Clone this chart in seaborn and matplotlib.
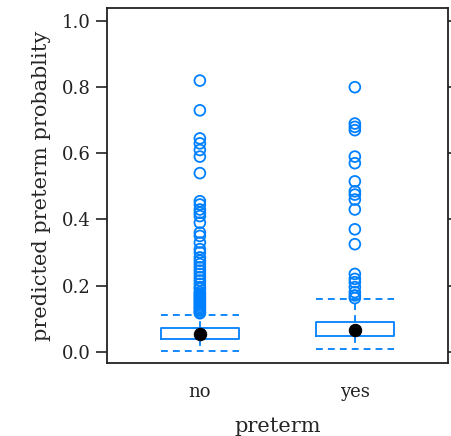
import matplotlib
matplotlib.use("Agg")
import matplotlib.pyplot as plt
import pandas as pd
import seaborn as sns

# box statistics
categories = ["no", "yes"]
q1 = [0.039, 0.048]
medians = [0.054, 0.066]
q3 = [0.070, 0.091]
whisker_lo = [0.003, 0.009]
whisker_hi = [0.112, 0.158]

# outlying points
outliers_no = [
    0.82, 0.73, 0.645, 0.63, 0.61, 0.59, 0.54,
    0.455, 0.445, 0.43, 0.42, 0.41, 0.39, 0.36, 0.35,
    0.33, 0.31, 0.30, 0.285, 0.275, 0.265, 0.255, 0.245, 0.235,
    0.225, 0.215, 0.205, 0.195, 0.19, 0.18, 0.175, 0.17, 0.165,
    0.16, 0.155, 0.15, 0.145, 0.14, 0.135, 0.13, 0.125, 0.12, 0.116,
]
outliers_yes = [
    0.80, 0.69, 0.68, 0.67, 0.59, 0.57, 0.515, 0.485, 0.475, 0.46,
    0.43, 0.37, 0.325, 0.235, 0.22, 0.21, 0.195, 0.18, 0.17, 0.162,
]

blue = "#0080ff"
sns.set_theme(style="white")
plt.rcParams["font.family"] = ["DejaVu Serif"]

fig = plt.figure(figsize=(4.51, 4.36), dpi=100)
ax = fig.add_axes([0.237, 0.167, 0.756, 0.815])

stats = []
for i, cat in enumerate(categories):
    stats.append({
        "label": cat, "q1": q1[i], "med": medians[i], "q3": q3[i],
        "whislo": whisker_lo[i], "whishi": whisker_hi[i], "fliers": [],
    })

dash = (0, (3.8, 2.8))
ax.bxp(
    stats, positions=[0, 1], widths=0.5, capwidths=0.5, showfliers=False,
    boxprops=dict(color=blue, linewidth=1.3),
    whiskerprops=dict(color=blue, linewidth=1.3, linestyle=dash),
    capprops=dict(color=blue, linewidth=1.3, linestyle=dash),
    medianprops=dict(linewidth=0),
)

df_out = pd.DataFrame({
    "preterm": ["no"] * len(outliers_no) + ["yes"] * len(outliers_yes),
    "prob": outliers_no + outliers_yes,
})
df_out["pos"] = df_out["preterm"].map({c: i for i, c in enumerate(categories)})
sns.scatterplot(data=df_out, x="pos", y="prob", ax=ax, marker="o",
                facecolor="none", edgecolor=blue, linewidth=1.3, s=60, zorder=3)

df_med = pd.DataFrame({"pos": [0, 1], "med": medians})
sns.scatterplot(data=df_med, x="pos", y="med", ax=ax, color="black",
                s=80, edgecolor="black", zorder=4)

ax.set_xlim(-0.6, 1.6)
ax.set_ylim(-0.035, 1.04)
ax.set_xticks([0, 1])
ax.set_xticklabels(categories)
ax.set_yticks([0.0, 0.2, 0.4, 0.6, 0.8, 1.0])
ax.set_yticklabels(["0.0", "0.2", "0.4", "0.6", "0.8", "1.0"])
ax.tick_params(axis="y", which="both", left=True, right=True, length=8,
               width=1.2, direction="out", labelsize=13, colors="#222222")
ax.tick_params(axis="x", length=0, labelsize=13, pad=14, colors="#222222")
for s in ax.spines.values():
    s.set_color("#222222")
    s.set_linewidth(1.3)
ax.set_xlabel("preterm", fontsize=15, labelpad=12)
ax.set_ylabel("predicted preterm probablity", fontsize=15, labelpad=8)

fig.savefig("out.png", dpi=100)
